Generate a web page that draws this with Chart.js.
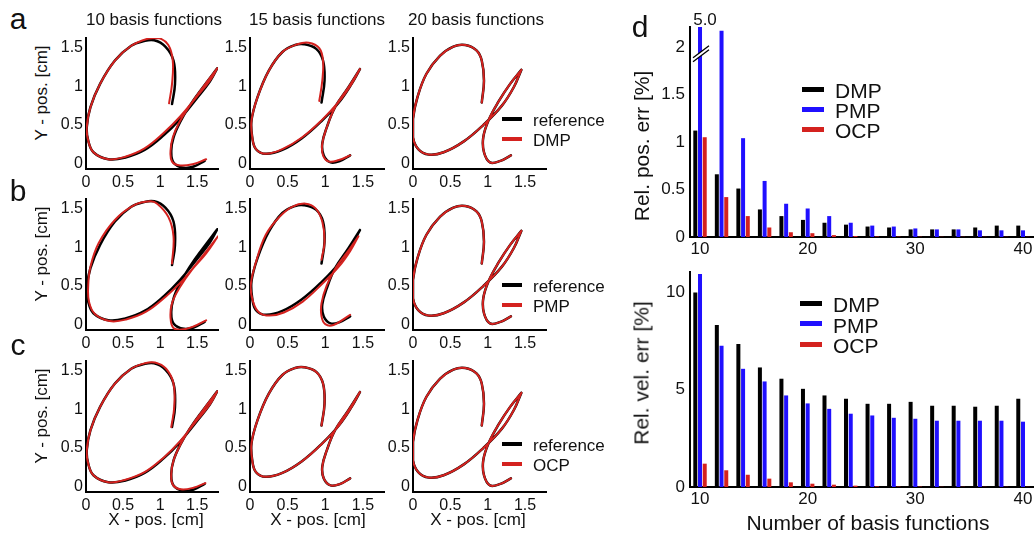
<!DOCTYPE html>
<html lang="en">
<head>
<meta charset="UTF-8">
<title>Basis functions: trajectories and errors</title>
<script src="https://cdn.jsdelivr.net/npm/chart.js@4/dist/chart.umd.min.js"></script>
<style>
  body { margin: 0; background: #fff; font-family: "Liberation Sans", Arial, sans-serif; color: #111; }
  #fig { position: relative; width: 1036px; height: 534px; overflow: hidden; }
  #fig canvas { position: absolute; }
  .t { position: absolute; white-space: nowrap; line-height: 1; transform: translate(-50%, -50%); }
  .rot { transform: translate(-50%, -50%) rotate(-90deg); }
  .tl { position: absolute; white-space: nowrap; line-height: 1; transform: translate(0, -50%); }
  .ln { position: absolute; }
</style>
</head>
<body>
<div id="fig"></div>
<script>
// ---- trajectories (x, y in cm), null = pen lift at the cusp ----
const ref10 = [[1.16,0.77],[1.20,1.03],[1.18,1.33],[1.07,1.51],[0.92,1.59],[0.78,1.58],[0.61,1.52],[0.39,1.33],[0.19,1.03],[0.06,0.73],[0.01,0.47],[0.03,0.30],[0.10,0.15],[0.30,0.06],[0.52,0.08],[0.79,0.18],[1.05,0.37],[1.27,0.58],[1.49,0.84],[1.67,1.06],[1.77,1.23],null,
  [1.77,1.23],[1.58,0.99],[1.40,0.75],[1.27,0.54],[1.18,0.34],[1.15,0.17],[1.18,0.02],[1.32,-0.05],[1.46,-0.03],[1.60,0.04]];
const dmp10 = [[1.12,0.78],[1.16,1.03],[1.17,1.33],[1.11,1.53],[0.98,1.62],[0.83,1.61],[0.61,1.52],[0.39,1.33],[0.19,1.03],[0.06,0.73],[0.01,0.47],[0.03,0.30],[0.10,0.15],[0.30,0.06],[0.52,0.09],[0.79,0.20],[1.05,0.40],[1.27,0.61],[1.49,0.86],[1.67,1.07],[1.77,1.23],null,
  [1.77,1.23],[1.58,0.99],[1.40,0.75],[1.26,0.54],[1.17,0.34],[1.14,0.17],[1.16,0.03],[1.27,-0.02],[1.45,0.00],[1.62,0.06]];
const pmp10 = [[1.16,0.79],[1.18,1.14],[1.11,1.39],[0.96,1.56],[0.86,1.59],[0.65,1.54],[0.39,1.35],[0.17,1.05],[0.06,0.75],[0.03,0.51],[0.04,0.30],[0.12,0.14],[0.32,0.05],[0.54,0.07],[0.81,0.17],[1.07,0.36],[1.31,0.58],[1.55,0.86],[1.78,1.14],null,
  [1.78,1.14],[1.62,0.92],[1.43,0.71],[1.27,0.49],[1.16,0.28],[1.14,0.09],[1.18,-0.04],[1.29,-0.06],[1.45,-0.02],[1.62,0.06]];
const ocp10 = [[1.15,0.77],[1.19,1.03],[1.18,1.33],[1.08,1.52],[0.93,1.60],[0.79,1.59],[0.61,1.52],[0.39,1.33],[0.19,1.03],[0.06,0.73],[0.01,0.47],[0.03,0.30],[0.10,0.15],[0.30,0.06],[0.52,0.09],[0.79,0.19],[1.05,0.38],[1.27,0.59],[1.49,0.85],[1.67,1.06],[1.77,1.23],null,
  [1.77,1.23],[1.58,0.99],[1.40,0.75],[1.27,0.54],[1.18,0.34],[1.15,0.17],[1.17,0.03],[1.28,-0.03],[1.45,-0.01],[1.61,0.05]];

const ref15 = [[0.95,0.79],[0.99,1.07],[0.97,1.33],[0.88,1.48],[0.72,1.54],[0.60,1.53],[0.43,1.44],[0.25,1.20],[0.10,0.86],[0.02,0.56],[0.03,0.34],[0.08,0.19],[0.21,0.13],[0.43,0.18],[0.69,0.33],[0.96,0.56],[1.18,0.79],[1.35,1.03],[1.46,1.22],null,
  [1.46,1.22],[1.31,0.99],[1.13,0.73],[1.02,0.47],[0.96,0.26],[0.98,0.11],[1.07,0.02],[1.20,0.04],[1.33,0.11]];
const dmp15 = [[0.92,0.81],[0.96,1.07],[0.97,1.33],[0.92,1.49],[0.78,1.56],[0.63,1.54],[0.43,1.44],[0.25,1.20],[0.10,0.86],[0.02,0.56],[0.03,0.34],[0.08,0.19],[0.21,0.13],[0.43,0.19],[0.69,0.34],[0.96,0.57],[1.18,0.80],[1.35,1.03],[1.46,1.22],null,
  [1.46,1.22],[1.31,0.99],[1.13,0.73],[1.02,0.47],[0.96,0.26],[0.97,0.11],[1.05,0.03],[1.18,0.05],[1.33,0.11]];
const pmp15 = [[0.95,0.84],[0.99,1.07],[0.96,1.33],[0.87,1.50],[0.74,1.56],[0.56,1.52],[0.39,1.39],[0.21,1.16],[0.08,0.81],[0.01,0.51],[0.04,0.30],[0.12,0.16],[0.26,0.12],[0.45,0.16],[0.70,0.30],[0.96,0.53],[1.18,0.75],[1.33,0.95],[1.44,1.14],null,
  [1.44,1.14],[1.31,0.96],[1.15,0.75],[1.02,0.51],[0.95,0.28],[0.95,0.11],[1.00,0.01],[1.11,0.00],[1.33,0.13]];

const ref20 = [[0.92,0.79],[0.95,1.07],[0.92,1.33],[0.85,1.46],[0.70,1.53],[0.54,1.51],[0.36,1.39],[0.18,1.16],[0.06,0.86],[0.00,0.58],[0.00,0.34],[0.07,0.19],[0.21,0.12],[0.41,0.15],[0.68,0.29],[0.94,0.50],[1.19,0.75],[1.35,0.99],[1.45,1.21],null,
  [1.45,1.21],[1.30,1.03],[1.15,0.81],[1.01,0.56],[0.94,0.34],[0.95,0.15],[1.03,0.02],[1.17,0.04],[1.31,0.11]];

const trajXTicks = [0, 0.5, 1, 1.5];
const trajYTicks = [0, 0.5, 1, 1.5];

// ---- panel d ----
const nBasis = [10, 12, 14, 16, 18, 20, 22, 24, 26, 28, 30, 32, 34, 36, 38, 40];
const posDMP = [1.12, 0.66, 0.51, 0.29, 0.22, 0.18, 0.15, 0.13, 0.11, 0.10, 0.08, 0.08, 0.08, 0.10, 0.12, 0.12];
const posPMP = [5.0, 2.17, 1.04, 0.59, 0.35, 0.30, 0.22, 0.15, 0.12, 0.11, 0.09, 0.08, 0.08, 0.07, 0.07, 0.07];
const posOCP = [1.05, 0.42, 0.22, 0.10, 0.05, 0.04, 0.02, 0.01, 0.005, 0.004, 0.003, 0.002, 0.002, 0.002, 0.002, 0.002];
const velDMP = [10.0, 8.34, 7.36, 6.15, 5.57, 5.05, 4.71, 4.54, 4.28, 4.28, 4.38, 4.18, 4.18, 4.13, 4.18, 4.54];
const velPMP = [10.96, 7.26, 6.08, 5.43, 4.71, 4.30, 4.02, 3.77, 3.68, 3.56, 3.51, 3.41, 3.41, 3.41, 3.41, 3.36];
const velOCP = [1.2, 0.86, 0.63, 0.43, 0.24, 0.17, 0.12, 0.07, 0.03, 0.02, 0.02, 0.01, 0.01, 0.01, 0.01, 0.01];
const basisTicks = [10, 20, 30, 40];
const posTicks = [0, 0.5, 1, 1.5, 2];
const velTicks = [0, 5, 10];

const BLACK = '#000000', BLUE = '#2010ff', RED = '#d4221f';
const FONT = '"Liberation Sans", Arial, sans-serif';
Chart.defaults.font.family = FONT;
Chart.defaults.color = '#111';

const fig = document.getElementById('fig');

function addCanvas(left, top, w, h) {
  const cv = document.createElement('canvas');
  cv.width = w; cv.height = h;
  cv.style.left = left + 'px'; cv.style.top = top + 'px';
  cv.style.width = w + 'px'; cv.style.height = h + 'px';
  fig.appendChild(cv);
  return cv;
}

function text(str, x, y, size, cls) {
  const d = document.createElement('div');
  d.className = cls || 't';
  d.style.left = x + 'px'; d.style.top = y + 'px';
  d.style.fontSize = size + 'px';
  d.textContent = str;
  fig.appendChild(d);
}

function legend(items, x, y, gap, len, thick, size) {
  items.forEach(([label, color], i) => {
    const l = document.createElement('div');
    l.className = 'ln';
    l.style.left = x + 'px'; l.style.top = (y + i * gap - thick / 2) + 'px';
    l.style.width = len + 'px'; l.style.height = thick + 'px';
    l.style.background = color;
    fig.appendChild(l);
    text(label, x + len + 11, y + i * gap + 1, size, 'tl');
  });
}

function toPoints(curve) {
  return curve.map(p => p ? { x: p[0], y: p[1] } : { x: NaN, y: null });
}

function axisOpts(min, max, tickVals, size, pad, fitFn) {
  return {
    type: 'linear', min: min, max: max, offset: false,
    afterBuildTicks: s => { s.ticks = tickVals.map(v => ({ value: v })); },
    afterFit: fitFn,
    grid: { display: false, drawTicks: false },
    border: { display: true, color: '#000', width: 2 },
    ticks: { color: '#111', font: { size: size }, padding: pad, autoSkip: false, maxRotation: 0,
             callback: v => String(v) }
  };
}

// ---- small trajectory plots ----
const colLeft = [86, 250, 413];
const colW = [132, 134, 133];
const rowTop = [38, 199, 361];
const plotH = 131;

function trajPlot(col, row, refCurve, fitCurve) {
  const padL = 34, padT = 16, padR = 8, padB = 24;
  const w = colW[col] + padL + padR, h = plotH + padT + padB;
  const cv = addCanvas(colLeft[col] - padL, rowTop[row] - padT, w, h);
  new Chart(cv, {
    type: 'scatter',
    data: {
      // the first dataset is painted last, so the fitted (red) curve sits on top
      datasets: [
        { data: toPoints(fitCurve), showLine: true, borderColor: RED, borderWidth: 2 },
        { data: toPoints(refCurve), showLine: true, borderColor: BLACK, borderWidth: 2.5 }
      ]
    },
    options: {
      responsive: false, animation: false, events: [],
      layout: { padding: { top: padT, right: padR, left: 0, bottom: 0 } },
      plugins: { legend: { display: false }, tooltip: { enabled: false } },
      elements: { point: { radius: 0 }, line: { tension: 0.4, borderCapStyle: 'round', borderJoinStyle: 'round' } },
      scales: {
        x: axisOpts(0, 1.78, trajXTicks, 16, 4, s => { s.height = padB; }),
        y: axisOpts(-0.065, 1.62, trajYTicks, 16, 3, s => { s.width = padL; })
      }
    }
  });
}

trajPlot(0, 0, ref10, dmp10);
trajPlot(1, 0, ref15, dmp15);
trajPlot(2, 0, ref20, ref20);
trajPlot(0, 1, ref10, pmp10);
trajPlot(1, 1, ref15, pmp15);
trajPlot(2, 1, ref20, ref20);
trajPlot(0, 2, ref10, ocp10);
trajPlot(1, 2, ref15, ref15);
trajPlot(2, 2, ref20, ref20);

// ---- panel d bar charts ----
const breakMark = {
  id: 'breakMark',
  afterDatasetsDraw(chart) {
    if (!chart.options.plugins.breakMark || !chart.options.plugins.breakMark.on) return;
    const { ctx, scales: { x, y }, chartArea } = chart;
    const px = x.getPixelForValue(nBasis[0]);
    const py = y.getPixelForValue(1.95);
    ctx.save();
    ctx.fillStyle = '#fff';
    ctx.beginPath();
    ctx.moveTo(px - 7, py + 6); ctx.lineTo(px + 9, py - 6);
    ctx.lineTo(px + 9, py - 2); ctx.lineTo(px - 7, py + 10);
    ctx.closePath(); ctx.fill();
    ctx.strokeStyle = '#000'; ctx.lineWidth = 1.3;
    ctx.beginPath();
    ctx.moveTo(px - 7, py + 6); ctx.lineTo(px + 9, py - 6);
    ctx.moveTo(px - 7, py + 10); ctx.lineTo(px + 9, py - 2);
    ctx.stroke();
    ctx.fillStyle = '#111';
    ctx.font = '17px ' + FONT;
    ctx.textAlign = 'center'; ctx.textBaseline = 'middle';
    ctx.fillText(posPMP[0].toFixed(1), px + 5, chartArea.top - 7);
    ctx.restore();
  }
};

function barSet(label, vals, color) {
  return {
    label: label, backgroundColor: color, borderWidth: 0,
    categoryPercentage: 0.656, barPercentage: 0.85,
    data: nBasis.map((n, i) => ({ x: n, y: vals[i] }))
  };
}

function barChart(top, plotHeight, padT, padB, sets, yMax, yTicks, withBreak) {
  const padL = 50, padR = 4, plotW = 343;
  const cv = addCanvas(690 - padL, top - padT, plotW + padL + padR, plotHeight + padT + padB);
  new Chart(cv, {
    type: 'bar',
    data: { datasets: sets },
    options: {
      responsive: false, animation: false, events: [],
      layout: { padding: { top: padT, right: padR, left: 0, bottom: 0 } },
      plugins: { legend: { display: false }, tooltip: { enabled: false }, breakMark: { on: withBreak } },
      scales: {
        x: axisOpts(9.07, 40.93, basisTicks, 17, 2, s => { s.height = padB; }),
        y: axisOpts(0, yMax, yTicks, 17, 5, s => { s.width = padL; })
      }
    },
    plugins: [breakMark]
  });
}

barChart(27, 210, 24, 24,
  [barSet('DMP', posDMP, BLACK), barSet('PMP', posPMP, BLUE), barSet('OCP', posOCP, RED)],
  2.21, posTicks, true);
barChart(272, 215, 20, 26,
  [barSet('DMP', velDMP, BLACK), barSet('PMP', velPMP, BLUE), barSet('OCP', velOCP, RED)],
  11.06, velTicks, false);

// ---- texts ----
text('a', 18, 19, 30);
text('b', 18, 191, 30);
text('c', 18, 345, 30);
text('d', 640, 27, 30);

text('10 basis functions', 154, 19, 17);
text('15 basis functions', 317, 19, 17);
text('20 basis functions', 476, 19, 17);

text('Y - pos. [cm]', 41, 93, 17, 't rot');
text('Y - pos. [cm]', 41, 254, 17, 't rot');
text('Y - pos. [cm]', 41, 416, 17, 't rot');
text('X - pos. [cm]', 156, 519, 17);
text('X - pos. [cm]', 318, 519, 17);
text('X - pos. [cm]', 478, 519, 17);

legend([['reference', BLACK], ['DMP', RED]], 502, 119, 20, 20, 4, 17);
legend([['reference', BLACK], ['PMP', RED]], 502, 285, 20, 20, 4, 17);
legend([['reference', BLACK], ['OCP', RED]], 502, 444, 20, 20, 4, 17);

legend([['DMP', BLACK], ['PMP', BLUE], ['OCP', RED]], 802, 89, 20, 22, 5, 21);
legend([['DMP', BLACK], ['PMP', BLUE], ['OCP', RED]], 800, 303, 20.5, 22, 5, 21);

text('Rel. pos. err [%]', 641, 146, 21, 't rot');
text('Rel. vel. err [%]', 641, 373, 21, 't rot');
text('Number of basis functions', 868, 522, 21);
</script>
</body>
</html>
